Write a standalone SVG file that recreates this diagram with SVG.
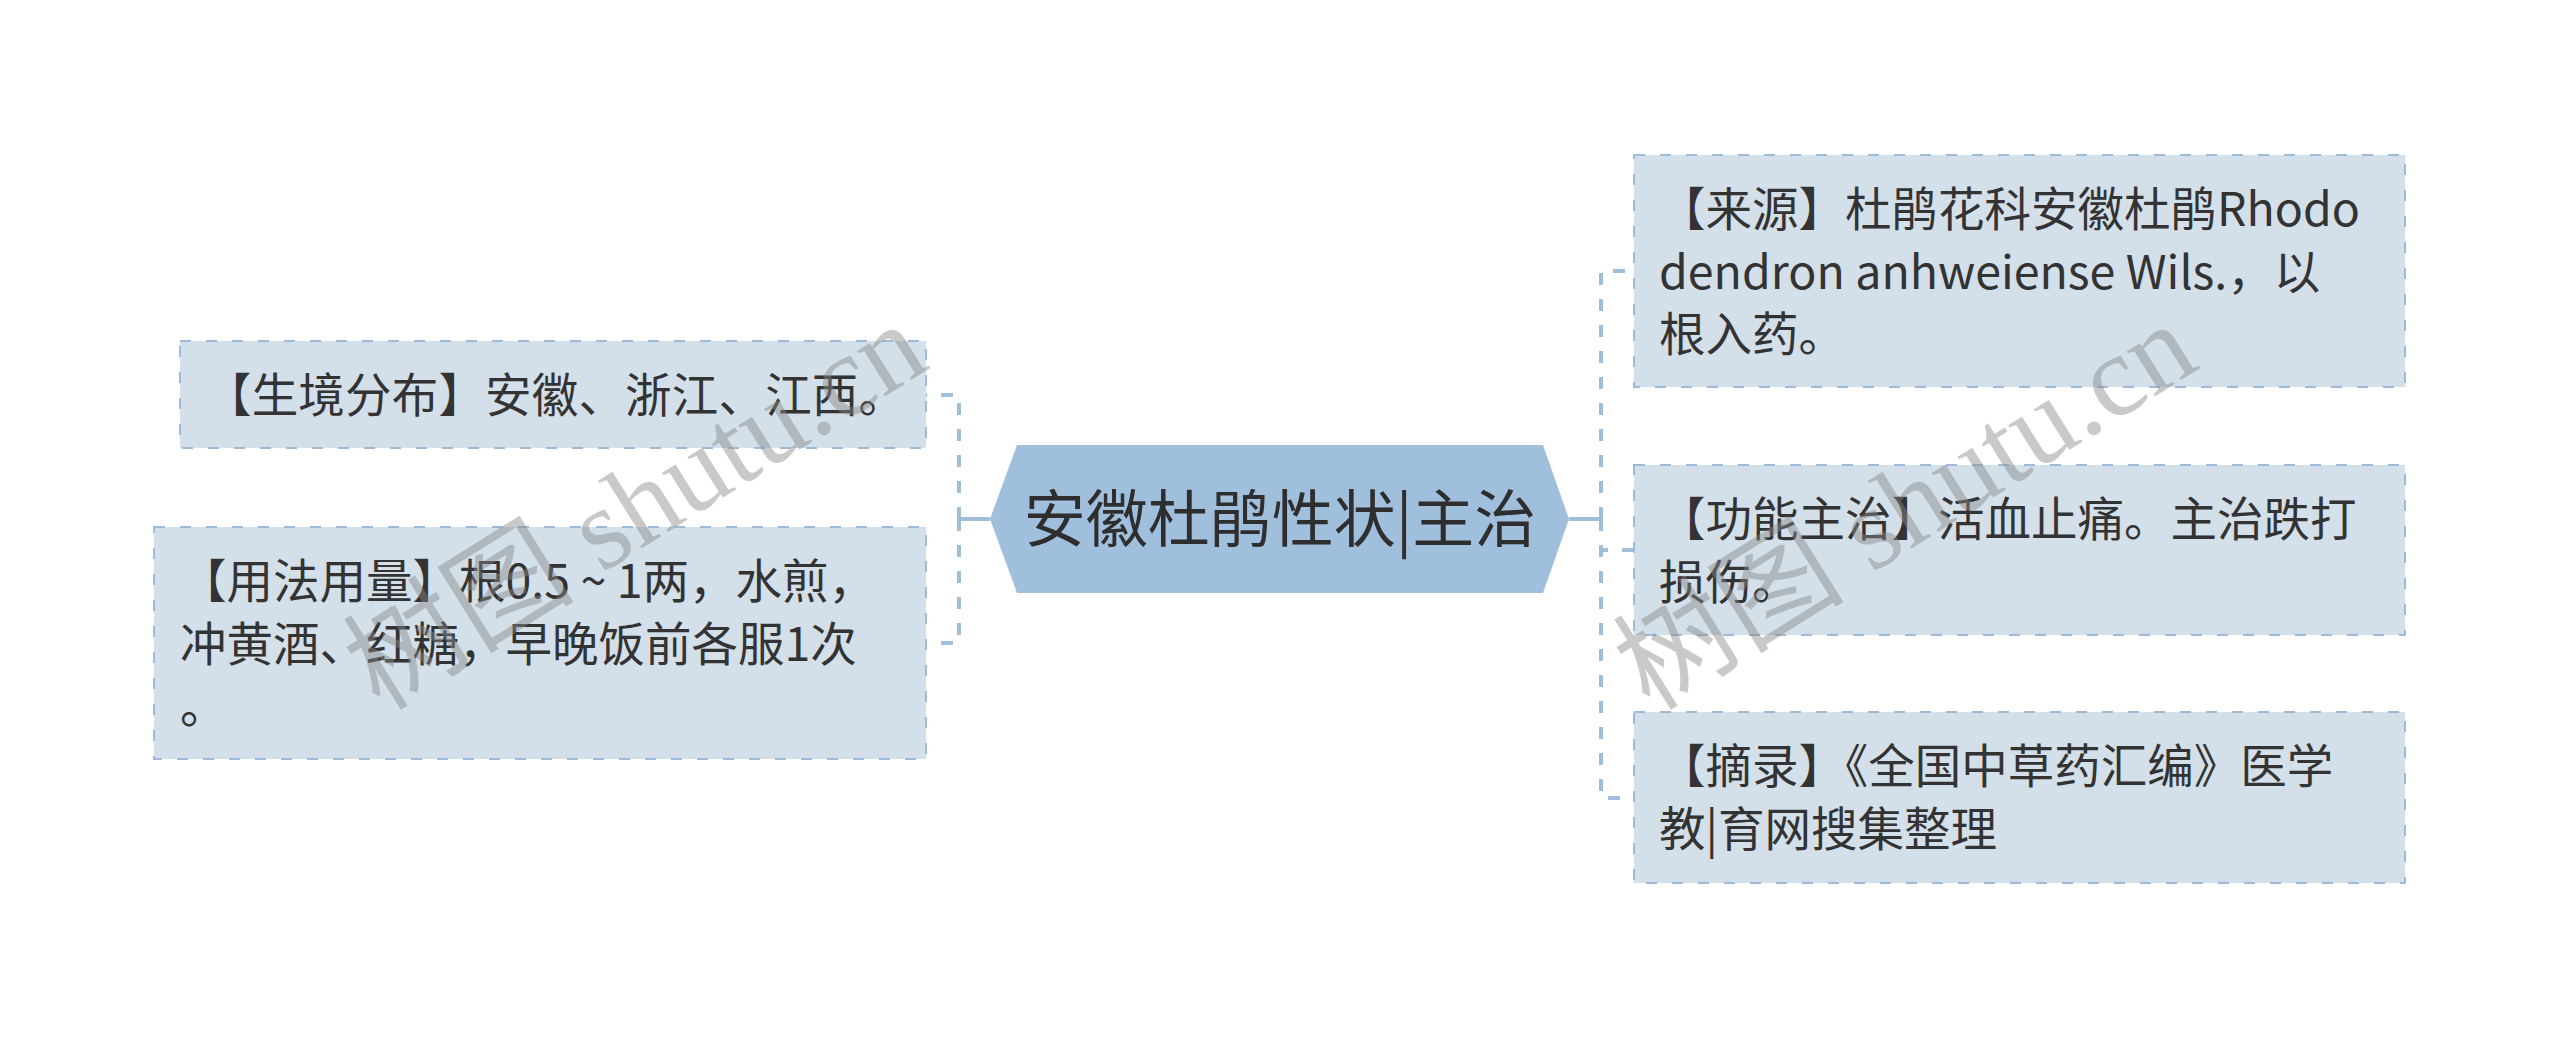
<svg xmlns="http://www.w3.org/2000/svg" width="2560" height="1039" viewBox="0 0 2560 1039">
<style>
.box{fill:#d3dfe9;stroke:#9dbbd8;stroke-width:2;stroke-dasharray:11 15}
.t{font-family:"Noto Sans CJK SC","Noto Sans",sans-serif;font-size:46.5px;fill:#333333}
.ct{font-family:"Noto Sans CJK SC","Noto Sans",sans-serif;font-size:62px;fill:#2e2e2e}
.solid{fill:none;stroke:#a0bedc;stroke-width:4}
.dash{fill:none;stroke:#a0bedc;stroke-width:4;stroke-dasharray:12 14}
.wm{font-family:"Liberation Serif","Noto Sans CJK SC",serif;font-size:116px;fill:#8a8a8a;opacity:0.45}
</style>
<rect width="2560" height="1039" fill="#ffffff"/>
<g id="connectors">
<path class="solid" d="M990,519 H959"/>
<path class="dash" d="M959,519 V395 H926"/>
<path class="dash" d="M959,519 V643 H926"/>
<path class="solid" d="M1569,519 H1601"/>
<path class="dash" d="M1601,519 V271 H1634"/>
<path class="dash" d="M1601,519 V550 H1634"/>
<path class="dash" d="M1601,519 V798 H1634"/>
</g>
<g id="center">
<polygon points="990,519 1017,445 1543,445 1569,519 1543,593 1017,593" fill="#a0bfdc"/>
<text class="ct" x="1280" y="542" text-anchor="middle">安徽杜鹃性状|主治</text>
</g>
<g id="left1">
<rect class="box" x="180" y="341" width="746" height="107"/>
<text class="t" x="205" y="412" textLength="700" lengthAdjust="spacing">【生境分布】安徽、浙江、江西。</text>
</g>
<g id="left2">
<rect class="box" x="154" y="527" width="772" height="232"/>
<text class="t"><tspan x="180" y="598">【用法用量】根0.5 ~ 1两，水煎，</tspan><tspan x="180" y="660.5">冲黄酒、红糖，早晚饭前各服1次</tspan><tspan x="180" y="723">。</tspan></text>
</g>
<g id="right1">
<rect class="box" x="1634" y="155" width="771" height="232"/>
<text class="t"><tspan x="1659" y="226">【来源】杜鹃花科安徽杜鹃Rhodo</tspan><tspan x="1659" y="288.5">dendron anhweiense Wils.，以</tspan><tspan x="1659" y="351">根入药。</tspan></text>
</g>
<g id="right2">
<rect class="box" x="1634" y="465" width="771" height="170"/>
<text class="t"><tspan x="1659" y="536">【功能主治】活血止痛。主治跌打</tspan><tspan x="1659" y="598.5">损伤。</tspan></text>
</g>
<g id="right3">
<rect class="box" x="1634" y="712" width="771" height="171"/>
<text class="t"><tspan x="1659" y="783">【摘录】《全国中草药汇编》医学</tspan><tspan x="1659" y="845.5">教|育网搜集整理</tspan></text>
</g>
<g id="watermark">
<text class="wm" transform="translate(380,712) rotate(-32)">树图 shutu.cn</text>
<text class="wm" transform="translate(1650,712) rotate(-32)">树图 shutu.cn</text>
</g>
</svg>
